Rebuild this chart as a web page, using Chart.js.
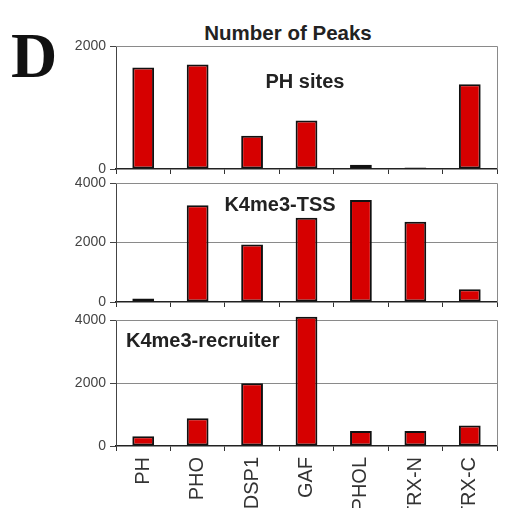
<!DOCTYPE html>
<html><head><meta charset="utf-8">
<script src="https://cdn.jsdelivr.net/npm/chart.js@4/dist/chart.umd.min.js"></script>
<style>
html,body{margin:0;padding:0;width:523px;height:508px;overflow:hidden;background:#fff;}
.c{position:absolute;left:0;}
.t{position:absolute;font-family:"Liberation Sans",Arial,sans-serif;font-weight:bold;font-size:20px;line-height:20px;color:#222;white-space:nowrap;}
</style></head><body>
<div class="t" style="font-family:'Liberation Serif','Times New Roman',serif;font-size:64px;line-height:64px;left:11px;top:24px;color:#111;">D</div>
<div class="t" style="left:288px;top:23px;transform:translateX(-50%);font-size:20.5px;">Number of Peaks</div>
<div style="position:absolute;left:0;top:0;width:523px;height:182px;"><canvas id="c1" class="c" width="523" height="182"></canvas></div>
<div style="position:absolute;left:0;top:170px;width:523px;height:145px;"><canvas id="c2" class="c" width="523" height="145"></canvas></div>
<div style="position:absolute;left:0;top:307px;width:523px;height:240px;"><canvas id="c3" class="c" width="523" height="240"></canvas></div>
<div class="t" style="left:305px;top:71px;transform:translateX(-50%);">PH sites</div>
<div class="t" style="left:280px;top:194px;transform:translateX(-50%);">K4me3-TSS</div>
<div class="t" style="left:126px;top:330px;">K4me3-recruiter</div>
<script>
const categories = ['PH','PHO','DSP1','GAF','PHOL','TRX-N','TRX-C'];
const phSitePeaks = [1650, 1700, 540, 790, 70, 25, 1380];
const tssPeaks = [115, 3250, 1930, 2830, 3430, 2700, 430];
const recruiterPeaks = [310, 880, 1990, 4100, 480, 480, 650];
const panelMax = [2000, 4000, 4000];
const tickStep = 2000;

const FONT = '"Liberation Sans", Arial, sans-serif';

const boxPlugin = {
  id: 'box',
  beforeDatasetsDraw(chart) {
    const a = chart.chartArea, ctx = chart.ctx;
    ctx.save();
    ctx.strokeStyle = '#8a8a8a';
    ctx.lineWidth = 1;
    ctx.beginPath();
    ctx.moveTo(a.left, a.top + 0.5);
    ctx.lineTo(a.right + 0.5, a.top + 0.5);
    ctx.lineTo(a.right + 0.5, a.bottom);
    ctx.stroke();
    ctx.restore();
  }
};

function makeChart(id, data, max, padTop, xHeight, showLabels, showGrid) {
  return new Chart(document.getElementById(id), {
    type: 'bar',
    data: {
      labels: categories,
      datasets: [{
        data: data,
        backgroundColor: '#d60000',
        borderColor: '#111',
        borderWidth: 2,
        borderSkipped: false,
        categoryPercentage: 1,
        barPercentage: 0.4,
        clip: false
      }]
    },
    plugins: [boxPlugin],
    options: {
      responsive: false,
      animation: false,
      devicePixelRatio: 1,
      layout: { padding: { top: padTop, right: 26, left: 0, bottom: 0 } },
      plugins: { legend: { display: false }, tooltip: { enabled: false }, title: { display: false } },
      scales: {
        x: {
          grid: { display: true, color: 'rgba(0,0,0,0)', tickColor: '#333', tickLength: 5, drawTicks: true, offset: true },
          border: { display: true, color: '#222', width: 1.5 },
          ticks: {
            display: showLabels, autoSkip: false, minRotation: 90, maxRotation: 90,
            padding: 6, color: '#333', font: { family: FONT, size: 20 }
          },
          afterFit(scale) { scale.height = xHeight; }
        },
        y: {
          min: 0, max: max,
          grid: {
            color: (c) => (showGrid && c.tick && c.tick.value === tickStep) ? '#8a8a8a' : 'rgba(0,0,0,0)',
            tickColor: '#444', tickLength: 6, drawTicks: true
          },
          border: { display: true, color: '#444', width: 1 },
          ticks: {
            stepSize: tickStep, padding: 4, color: '#444', font: { family: FONT, size: 14 },
            callback: (v) => String(v)
          },
          afterFit(scale) { scale.width = 116; }
        }
      }
    }
  });
}

makeChart('c1', phSitePeaks, panelMax[0], 46, 13, false, false);
makeChart('c2', tssPeaks, panelMax[1], 13, 13, false, true);
makeChart('c3', recruiterPeaks, panelMax[2], 13, 101, true, true);
</script>
</body></html>
